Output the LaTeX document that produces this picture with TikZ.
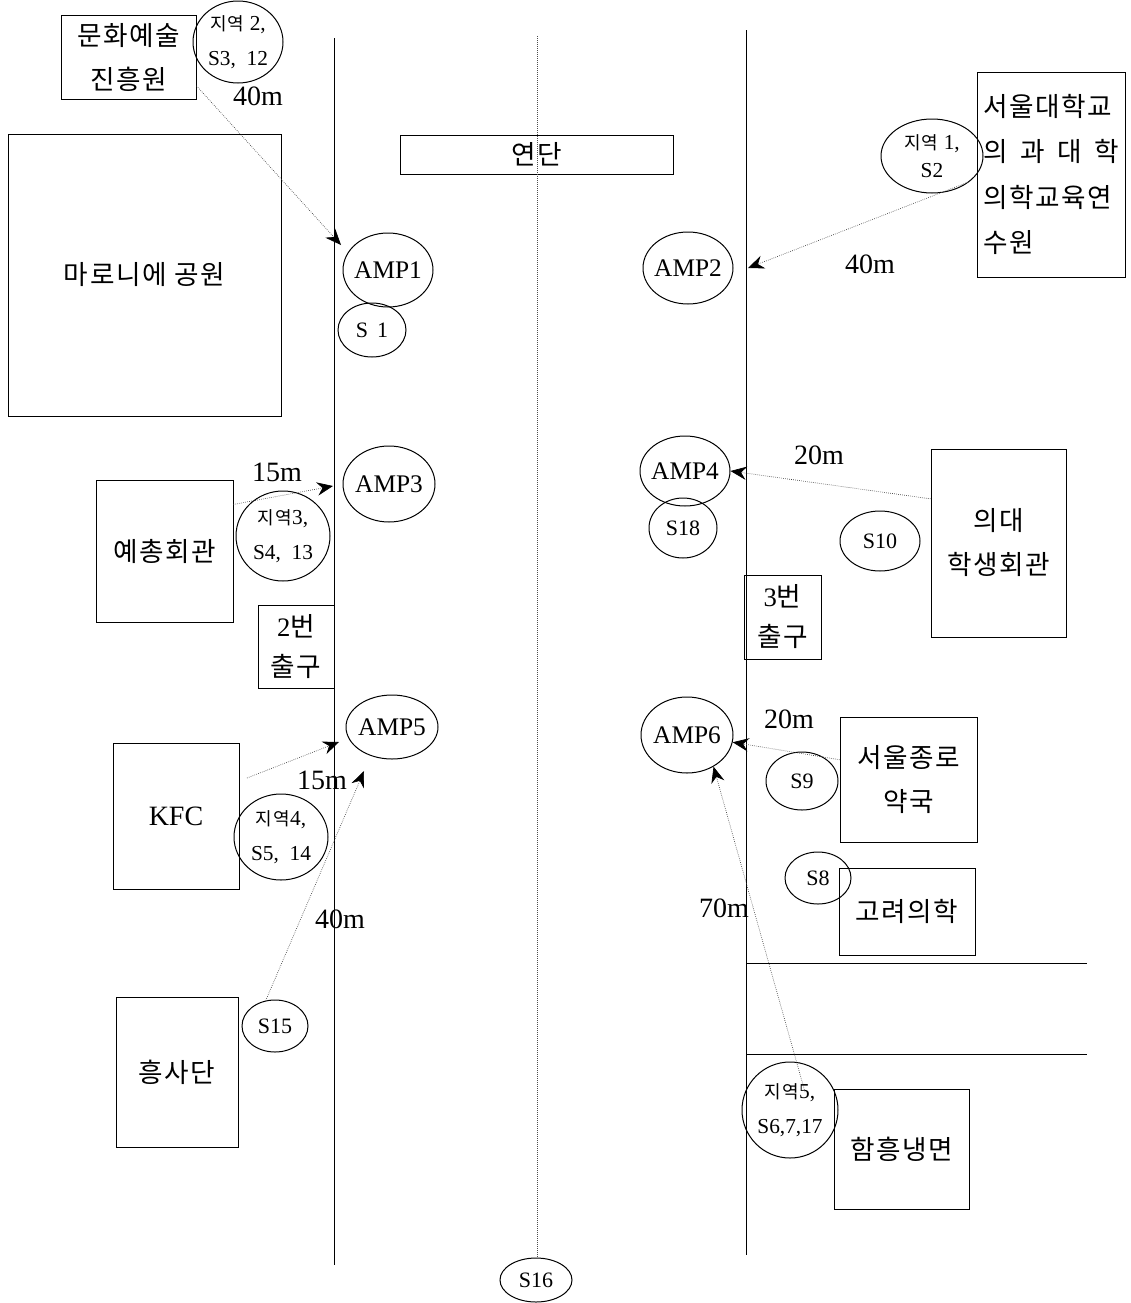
\documentclass[tikz,border=0pt]{standalone}
\usepackage{fontspec}
\setmainfont{Liberation Serif}
\newfontfamily\kr[LetterSpace=6]{Noto Sans CJK KR}
\usetikzlibrary{arrows.meta,shapes.geometric,calc}
\begin{document}
\begin{tikzpicture}[x=0.75pt,y=-0.75pt,
  road/.style={line width=0.75pt},
  midline/.style={densely dotted, line width=0.5pt, black!70},
  box/.style 2 args={draw, rectangle, line width=0.75pt, inner sep=0pt, align=center, font=\kr\fontsize{20}{33}\selectfont, minimum width={0.75*#1pt}, minimum height={0.75*#2pt}},
  ell/.style 2 args={draw, ellipse, line width=0.75pt, inner sep=0pt, minimum width={1.5*#1pt}, minimum height={1.5*#2pt}},
  amptxt/.style={font=\fontsize{19}{20}\selectfont, inner sep=0pt},
  stxt/.style={font=\fontsize{16.5}{18}\selectfont, inner sep=0pt},
  ztxt/.style={font=\fontsize{16}{26}\selectfont, align=center, inner sep=0pt},
  dist/.style={font=\fontsize{21}{22}\selectfont, inner sep=0pt},
  conn/.style={densely dotted, line width=0.5pt, black!75, -{Stealth[length=12pt,width=10pt,inset=4pt,color=black]}},
]
\newcommand\kj{\kr\fontsize{13.5}{14}\selectfont 지역}
\useasboundingbox (0,0) rectangle (1131,1303);

% roads
\coordinate (Ltop) at (334,38);  \coordinate (Lbot) at (334,1265);
\coordinate (Rtop) at (746,30);  \coordinate (Rbot) at (746,1255);
\coordinate (Ctop) at (537,36);
\draw[road] (Ltop) -- (Lbot);
\draw[road] (Rtop) -- (Rbot);
\coordinate (h1a) at (746,963); \coordinate (h1b) at (1087,963);
\coordinate (h2a) at (746,1054); \coordinate (h2b) at (1087,1054);
\draw[road] (h1a) -- (h1b);
\draw[road] (h2a) -- (h2b);

% boxes
\node[box={135}{84}] (mun) at (128.5,57) {문화예술\\진흥원};
\node[box={273}{282}] (park) at (144.5,275) {마로니에 공원};
\node[box={273}{39}] (yd) at (536.5,154.5) {연단};
\node[box={148}{205}, align=left, font=\kr\fontsize{20}{34}\selectfont] (snu) at (1051,174.5) {서울대학교\\\makebox[5.1em][s]{의\hfill 과\hfill 대\hfill 학}\\의학교육연\\수원};
\node[box={137}{142}] (yech) at (164.5,551) {예총회관};
\node[box={76}{83}, font=\kr\fontsize{20}{30}\selectfont] (ex2) at (296,646.5) {{\rmfamily 2}번\\출구};
\node[box={126}{146}, font=\rmfamily\fontsize{21}{22}\selectfont] (kfc) at (176,816) {KFC};
\node[box={122}{150}] (hsd) at (177,1072) {\raisebox{-4pt}{흥사단}};
\node[box={77}{84}, font=\kr\fontsize{20}{30}\selectfont] (ex3) at (782.5,617) {{\rmfamily 3}번\\출구};
\node[box={135}{188}] (uidae) at (998.5,543) {의대\\학생회관};
\node[box={137}{125}] (jongro) at (908.5,779.5) {서울종로\\약국};
\node[box={136}{87}] (koryo) at (907,911.5) {고려의학};
\node[box={135}{120}] (hamh) at (901.5,1149) {함흥냉면};

% ellipses
\node[ell={45}{37}, label={[amptxt]center:AMP1}] (amp1) at (388,270) {};
\node[ell={45}{36}, label={[amptxt]center:AMP2}] (amp2) at (688,268) {};
\node[ell={46}{38}, label={[amptxt]center:AMP3}] (amp3) at (389,484) {};
\node[ell={45}{35}, label={[amptxt]center:AMP4}] (amp4) at (685,471) {};
\node[ell={46}{32}, label={[amptxt]center:AMP5}] (amp5) at (392,727) {};
\node[ell={46}{38}, label={[amptxt]center:AMP6}] (amp6) at (687,735) {};
\node[ell={34}{27}, label={[stxt]center:S\ \,1}] (s1) at (372,330) {};
\node[ell={34}{30}, label={[stxt]center:S18}] (s18) at (683,528) {};
\node[ell={40}{30}, label={[stxt]center:S10}] (s10) at (880,541) {};
\node[ell={36}{29}, label={[stxt]center:S9}] (s9) at (802,781) {};
\node[ell={33}{26}, label={[stxt]center:S8}] (s8) at (818,878) {};
\node[ell={33}{26}, label={[stxt]center:S15}] (s15) at (275,1026) {};
\node[ell={36}{22}, label={[stxt]center:S16}] (s16) at (536,1280) {};
\node[ell={45}{41}, label={[ztxt]center:{\kj} 2,\\S3,\ \ 12}] (z2) at (238,42) {};
\node[ell={51}{37}, label={[ztxt, font=\fontsize{16}{21}\selectfont]center:{\kj} 1,\\S2}] (z1) at (932,156) {};
\node[ell={47}{45}, label={[ztxt]center:{\kj}3,\\S4,\ \ 13}] (z3) at (283,536) {};
\node[ell={47}{43}, label={[ztxt]center:{\kj}4,\\S5,\ \ 14}] (z4) at (281,837) {};
\node[ell={48}{48}, label={[ztxt]center:{\kj}5,\\S6,7,17}] (z5) at (790,1110) {};

% centre line
\draw[midline] (Ctop) -- (Ctop |- s16.north);

% distance labels
\node[dist] (d1) at (258,96) {40m};
\node[dist] (d2) at (870,264) {40m};
\node[dist] (d3) at (277,472) {15m};
\node[dist] (d4) at (322,780) {15m};
\node[dist] (d5) at (340,919) {40m};
\node[dist] (d6) at (819,455) {20m};
\node[dist] (d7) at (789,719) {20m};
\node[dist] (d8) at (724,908) {70m};

% arrow ends
\coordinate (t1) at (341,245);
\coordinate (t2) at (748,268);
\coordinate (t3) at (333,486);
\coordinate (t4) at (339,742);
\coordinate (t5) at (364,771);
\coordinate (st4) at (247,778);
\coordinate (st8) at (805,1092);

% connectors
\draw[conn] (mun.-23) -- (t1);
\draw[conn] (z1.-34) -- (t2);
\draw[conn] (yech.34.5) -- (t3);
\draw[conn] (st4) -- (t4);
\draw[conn] (s15.110) -- (t5);
\draw[conn] (uidae.147.5) -- (amp4.east);
\draw[conn] (jongro.164) -- (amp6.-9);
\draw[conn] (st8) -- (amp6.-50);
\end{tikzpicture}
\end{document}
